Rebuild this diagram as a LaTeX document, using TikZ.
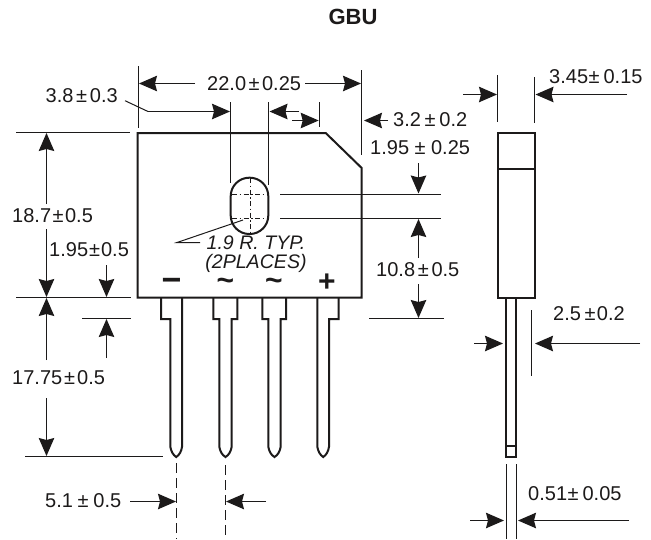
\documentclass[tikz,border=0pt]{standalone}
\usepackage{fontspec}
\setmainfont{Liberation Sans}
\usetikzlibrary{arrows.meta}
\definecolor{ink}{HTML}{1C1A1A}
\newcommand{\pmk}[2]{\kern#1pt±\kern#2pt}
\tikzset{
  thick line/.style={draw=ink,line width=2pt,line join=miter},
  thin line/.style={draw=ink,line width=1pt},
  dim/.style={draw=ink,line width=1.2pt,-{Stealth[length=18pt,width=15.5pt,inset=2pt]}},
  center line/.style={draw=ink,line width=0.8pt,dash pattern=on 5pt off 2.5pt on 1.5pt off 2.5pt},
  label/.style={inner sep=0pt,anchor=west,text=ink,font=\fontsize{20}{22}\selectfont},
  note/.style={inner sep=0pt,text=ink,font=\fontsize{19.6}{22}\selectfont\itshape},
  sign/.style={inner sep=0pt,anchor=base,text=ink,font=\fontsize{30}{30}\selectfont\bfseries},
  title/.style={inner sep=0pt,text=ink,font=\fontsize{22}{24}\selectfont\bfseries}
}
\begin{document}
\begin{tikzpicture}[x=1pt,y=-1pt]
\useasboundingbox (0,0) rectangle (651,539);
\fill[white] (0,0) rectangle (651,539);
\node[title] (ttl) at (353,17) {GBU};
% body
\draw[thick line] (137.5,133) -- (325.7,133) -- (361.7,168) -- (361.7,297.5) -- (137.5,297.5) -- cycle;
% slot
\draw[thick line,rounded corners=18.5pt] (230.7,177.7) rectangle (268.3,234);
\draw[center line] (232,194.5) -- (268,194.5);
\draw[center line] (232,218.5) -- (268,218.5);
\draw[center line] (250,178) -- (250,234);
% leads
\draw[thick line] (161,297.5) -- (161,319) -- (170.3,319) -- (170.3,446.7) .. controls (171,451) and (173,455) .. (176.2,457) .. controls (179.5,455) and (181.5,451) .. (182,446.7) -- (182,297.5);
\draw[thick line] (213.3,297.5) -- (213.3,319) -- (219.3,319) -- (219.3,446.7) .. controls (220,451) and (222,455) .. (225.5,457) .. controls (229,455) and (231,451) .. (231.7,446.7) -- (231.7,319) -- (237.3,319) -- (237.3,297.5);
\draw[thick line] (262.3,297.5) -- (262.3,319) -- (268.3,319) -- (268.3,446.7) .. controls (269,451) and (271,455) .. (274.5,457) .. controls (278,455) and (280,451) .. (280.7,446.7) -- (280.7,319) -- (286,319) -- (286,297.5);
\draw[thick line] (317.3,297.5) -- (317.3,446.7) .. controls (318,451) and (320,455) .. (323.2,457) .. controls (326.5,455) and (328.4,451) .. (329,446.7) -- (329,319) -- (338.7,319) -- (338.7,297.5);
% signs
\node[sign,font=\fontsize{34}{34}\selectfont\bfseries] (sminus) at (171.5,291) {−};
\node[sign] (stilde1) at (225.5,290) {\smash{\char"007E}};
\node[sign] (stilde2) at (274,290) {\smash{\char"007E}};
\node[sign] (splus) at (327,291) {+};
% extension lines, top
\draw[thin line] (138.5,66) -- (138.5,128);
\draw[thin line] (361.5,70) -- (361.5,155);
\draw[thin line] (230.5,102) -- (230.5,183);
\draw[thin line] (268.5,102) -- (268.5,185);
\draw[thin line] (319.5,102) -- (319.5,127);
% dim 22.0
\draw[dim] (195,83.5) -- (139,83.5);
\draw[dim] (305,83.5) -- (361,83.5);
\node[label] (d220) at (207,83.3) {22.0\pmk{2.5}{2.5}0.25};
% dim 3.8
\draw[thin line] (125,100.7) -- (148,111.5);
\draw[dim] (148,111.5) -- (230,111.5);
\node[label] (d38) at (45.5,96) {3.8\pmk{2.7}{2.7}0.3};
% small arrows
\draw[dim] (299,111.5) -- (269.5,111.5);
\draw[dim] (292,120.5) -- (318.7,120.5);
% 3.2
\draw[dim] (388,120.5) -- (364,120.5);
\node[label] (d32) at (393,120) {3.2\pmk{3.7}{3.7}0.2};
\node[label] (d195a) at (370,148) {1.95\pmk{5.5}{5.5}0.25};
% right of slot
\draw[thin line] (280,194.5) -- (441,194.5);
\draw[thin line] (280,218.5) -- (441,218.5);
\draw[thin line] (369,318.5) -- (444,318.5);
\draw[dim] (418.5,163) -- (418.5,193.5);
\draw[dim] (418.5,258) -- (418.5,219);
\draw[dim] (418.5,284) -- (418.5,318);
\node[label] (d108) at (376,270) {10.8\pmk{2.7}{2.7}0.5};
% left dims
\draw[thin line] (16,132.5) -- (130,132.5);
\draw[thin line] (16,297.5) -- (131,297.5);
\draw[thin line] (82,318.5) -- (131,318.5);
\draw[thin line] (25,456.5) -- (163,456.5);
\draw[dim] (46.5,204) -- (46.5,133);
\draw[dim] (46.5,229) -- (46.5,297);
\draw[dim] (46.5,360) -- (46.5,298);
\draw[dim] (46.5,398) -- (46.5,456);
\node[label] (d187) at (12,216) {18.7\pmk{1.5}{1.5}0.5};
\node[label] (d195b) at (49,250) {1.95\pmk{1}{1}0.5};
\node[label] (d1775) at (12,378) {17.75\pmk{2}{2}0.5};
\draw[dim] (106.5,265) -- (106.5,297);
\draw[dim] (106.5,358) -- (106.5,319);
% leader
\draw[thin line] (200,242.5) -- (177,242.5) -- (243,220);
\node[note] (n1) at (256,243) {1.9 R. TYP.};
\node[note] (n2) at (256,263) {(2PLACES)};
% pitch
\draw[draw=ink,line width=1pt,dash pattern=on 10pt off 5pt] (176.5,463) -- (176.5,539);
\draw[draw=ink,line width=1pt,dash pattern=on 10pt off 5pt] (225.5,465) -- (225.5,539);
\draw[dim] (130,501.5) -- (176,501.5);
\draw[dim] (266,501.5) -- (226,501.5);
\node[label] (d51) at (45,501) {5.1\pmk{4.7}{4.7}0.5};
% side view
\draw[thick line] (497.7,132.7) rectangle (534.7,297.7);
\draw[thick line] (497.7,169) -- (534.7,169);
\draw[thick line] (506,297.7) rectangle (516,457);
\draw[thick line] (506,445.7) -- (516,445.7);
\draw[thin line] (497.5,75) -- (497.5,122);
\draw[thin line] (534.5,77) -- (534.5,123);
\draw[dim] (463,94.5) -- (497,94.5);
\draw[dim] (627,94.5) -- (535.5,94.5);
\node[label] (d345) at (549,77) {3.45\pmk{0.5}{4}0.15};
\draw[thin line] (531.5,310) -- (531.5,375.7);
\draw[dim] (474,343.5) -- (503,343.5);
\draw[dim] (640,343.5) -- (535,343.5);
\node[label] (d25) at (553,314) {2.5\pmk{3.5}{1.5}0.2};
\draw[thin line] (506.5,464) -- (506.5,539);
\draw[thin line] (516.5,464) -- (516.5,539);
\draw[dim] (470,520.5) -- (504,520.5);
\draw[dim] (629,520.5) -- (518,520.5);
\node[label] (d051) at (528,494) {0.51\pmk{0.5}{4}0.05};
\end{tikzpicture}
\end{document}
